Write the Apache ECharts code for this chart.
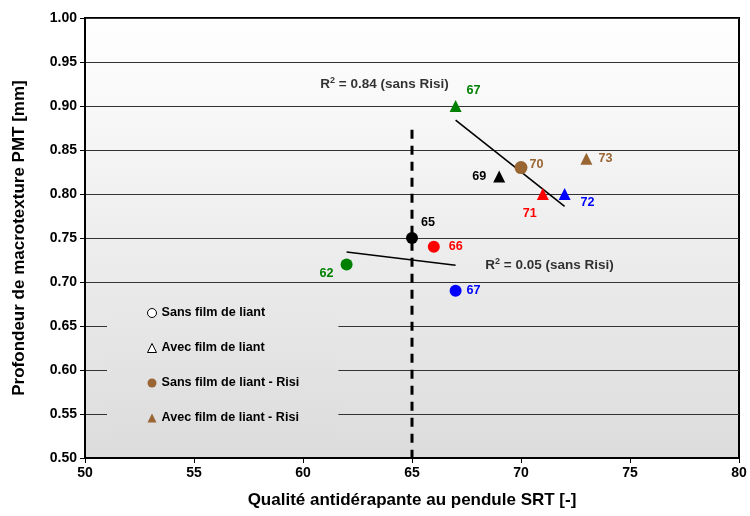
<!DOCTYPE html>
<html>
<head>
<meta charset="utf-8">
<script src="https://cdn.jsdelivr.net/npm/echarts@6/dist/echarts.min.js"></script>
<style>html,body{margin:0;padding:0;background:#fff}#c{width:750px;height:516px}</style>
</head>
<body>
<div id="c"></div>
<script>
// ---- data ----
var circleSRT = [65, 66, 62, 67];
var circlePMT = [0.75, 0.74, 0.72, 0.69];
var triangleSRT = [67, 69, 71, 72];
var trianglePMT = [0.90, 0.82, 0.80, 0.80];
var risiCircleSRT = [70];
var risiCirclePMT = [0.83];
var risiTriangleSRT = [73];
var risiTrianglePMT = [0.84];
var trendTriangles = [[67, 0.884], [72, 0.786]];
var trendCircles = [[62, 0.734], [67, 0.719]];
var thresholdLine = [[65, 0.873], [65, 0.50]];
var legendNames = ['Sans film de liant', 'Avec film de liant', 'Sans film de liant - Risi', 'Avec film de liant - Risi'];
var r2Texts = ['0.84', '0.05'];
var r2Pos = [[63.74, 0.925], [71.31, 0.719]];

// ---- styles ----
var circleColors = ['#000000', '#ff0000', '#008000', '#0000ff'];
var triangleColors = ['#008000', '#000000', '#ff0000', '#0000ff'];
var brown = '#996633';
var circleLabelPos = [
  {position: 'right', offset: [-2, -15]},
  {position: 'right', offset: [4, 0]},
  {position: 'left', offset: [-2, 9]},
  {position: 'right', offset: [0, 0]}
];
var triangleLabelPos = [
  {position: 'right', offset: [0, -15]},
  {position: 'left', offset: [-2, 0]},
  {position: 'bottom', offset: [-13, 2]},
  {position: 'right', offset: [5, 9]}
];
var FONT = 'Liberation Sans, Arial, sans-serif';

function pts(xs, ys, colors, lpos) {
  return xs.map(function (x, i) {
    var c = colors[i];
    return {
      value: [x, ys[i]],
      itemStyle: {color: c, opacity: 1},
      label: Object.assign({show: true, color: c, fontWeight: 'bold', fontSize: 12.6, fontFamily: FONT,
        formatter: String(x), distance: 5}, lpos[i])
    };
  });
}

var chart = echarts.init(document.getElementById('c'), null, {renderer: 'canvas'});
var bg = new echarts.graphic.LinearGradient(0, 0, 0, 1, [
  {offset: 0, color: '#ffffff'}, {offset: 1, color: '#dcdcdc'}
]);
var legendBg = new echarts.graphic.LinearGradient(0, 0, 0, 1, [
  {offset: 0, color: '#e9e9e9'}, {offset: 1, color: '#dddddd'}
]);

function r2Label(v) { return '{a|R}{s|2}{a| = ' + v + ' (sans Risi)}'; }

var option = {
  animation: false,
  backgroundColor: '#ffffff',
  grid: {left: 85, right: 11, top: 18, bottom: 58, show: true, backgroundColor: bg, borderColor: '#000', borderWidth: 2},
  xAxis: {
    type: 'value', min: 50, max: 80, interval: 5,
    name: 'Qualité antidérapante au pendule SRT [-]', nameLocation: 'middle', nameGap: 34,
    nameTextStyle: {fontWeight: 'bold', fontSize: 17, color: '#000', fontFamily: FONT},
    axisLine: {show: true, onZero: false, lineStyle: {color: '#000', width: 2}},
    axisTick: {show: true, length: 5, lineStyle: {color: '#000'}},
    axisLabel: {fontWeight: 'bold', fontSize: 14, color: '#000', fontFamily: FONT, margin: 8},
    splitLine: {show: false}
  },
  yAxis: {
    type: 'value', min: 0.5, max: 1.0, interval: 0.05,
    name: 'Profondeur de macrotexture PMT [mm]', nameLocation: 'middle', nameGap: 57,
    nameTextStyle: {fontWeight: 'bold', fontSize: 17, color: '#000', fontFamily: FONT},
    axisLine: {show: true, onZero: false, lineStyle: {color: '#000', width: 2}},
    axisTick: {show: true, length: 5, lineStyle: {color: '#000'}},
    axisLabel: {fontWeight: 'bold', fontSize: 14, color: '#000', fontFamily: FONT, margin: 8,
      formatter: function (v) { return v.toFixed(2); }},
    splitLine: {show: true, lineStyle: {color: '#333', width: 1}}
  },
  legend: {
    orient: 'vertical', left: 107, top: 291,
    padding: [15, 39, 15, 40],
    backgroundColor: legendBg,
    itemWidth: 9, itemHeight: 9, itemGap: 21,
    textStyle: {fontWeight: 'bold', fontSize: 12.6, lineHeight: 14, color: '#000', fontFamily: FONT},
    data: [
      {name: legendNames[0], icon: 'circle', itemStyle: {color: '#fff', borderColor: '#000', borderWidth: 1}},
      {name: legendNames[1], icon: 'triangle', itemStyle: {color: '#fff', borderColor: '#000', borderWidth: 1}},
      {name: legendNames[2], icon: 'circle', itemStyle: {color: brown}},
      {name: legendNames[3], icon: 'triangle', itemStyle: {color: brown}}
    ]
  },
  series: [
    {type: 'line', data: thresholdLine, symbol: 'none', silent: true, z: 3,
      lineStyle: {color: '#000', width: 3, type: [9, 7]}},
    {type: 'line', data: trendTriangles, symbol: 'none', silent: true, z: 3,
      lineStyle: {color: '#000', width: 1.6}},
    {type: 'line', data: trendCircles, symbol: 'none', silent: true, z: 3,
      lineStyle: {color: '#000', width: 1.6}},
    {name: legendNames[0], type: 'scatter', symbol: 'circle', symbolSize: 12, z: 5,
      itemStyle: {opacity: 1},
      data: pts(circleSRT, circlePMT, circleColors, circleLabelPos)},
    {name: legendNames[1], type: 'scatter', symbol: 'triangle', symbolSize: 12, z: 5,
      itemStyle: {opacity: 1},
      data: pts(triangleSRT, trianglePMT, triangleColors, triangleLabelPos)},
    {name: legendNames[2], type: 'scatter', symbol: 'circle', symbolSize: 13, z: 5,
      itemStyle: {opacity: 1},
      data: pts(risiCircleSRT, risiCirclePMT, [brown], [{position: 'right', offset: [-3, -3]}])},
    {name: legendNames[3], type: 'scatter', symbol: 'triangle', symbolSize: 12, z: 5,
      itemStyle: {opacity: 1},
      data: pts(risiTriangleSRT, risiTrianglePMT, [brown], [{position: 'right', offset: [1, 0]}])},
    {type: 'scatter', symbolSize: 0, silent: true, z: 6,
      data: r2Pos.map(function (p, i) {
        return {value: p, label: {show: true, position: 'inside', formatter: r2Label(r2Texts[i]),
          rich: {
            a: {fontWeight: 'bold', fontSize: 13.5, color: '#000', fontFamily: FONT, lineHeight: 16},
            s: {fontWeight: 'bold', fontSize: 9, color: '#000', fontFamily: FONT, lineHeight: 16, verticalAlign: 'top', padding: [0, 0, 6, 0]}
          }}};
      })}
  ]
};
chart.setOption(option);
</script>
</body>
</html>
